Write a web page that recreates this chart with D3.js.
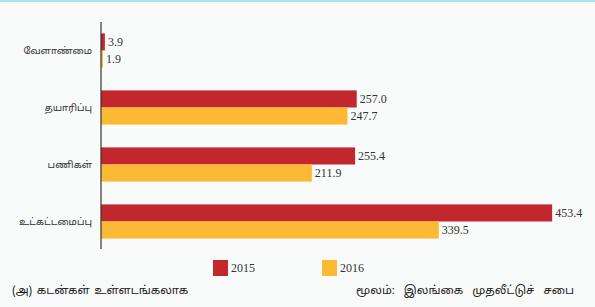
<!DOCTYPE html>
<html>
<head>
<meta charset="utf-8">
<script src="https://cdn.jsdelivr.net/npm/d3@7"></script>
<style>
  html, body { margin: 0; padding: 0; background: #f9fafa; }
  svg { display: block; }
</style>
</head>
<body>
<script>
var width = 595,
    height = 307;

// data
var categories = ['வேளாண்மை', 'தயாரிப்பு', 'பணிகள்', 'உட்கட்டமைப்பு'];
var years = ['2015', '2016'];
var values2015 = [3.9, 257.0, 255.4, 453.4];
var values2016 = [1.9, 247.7, 211.9, 339.5];
var colours = ['#c1272d', '#fdb933'];
var footLeft = '(அ) கடன்கள் உள்ளடங்கலாக';
var footRight = 'மூலம்: இலங்கை முதலீட்டுச் சபை';

var tamilFont = '"Noto Sans Tamil", "Noto Sans", "DejaVu Sans", sans-serif';
var numFont = '"Liberation Serif", "DejaVu Serif", serif';

var margin = { left: 101, top: 22 };

var svg = d3.select('body').append('svg')
    .attr('width', width)
    .attr('height', height);

svg.append('rect')
    .attr('width', width).attr('height', height)
    .attr('fill', '#f9fafa');

// thin top border
svg.append('rect')
    .attr('x', 0).attr('y', 0).attr('width', width).attr('height', 2)
    .attr('fill', '#a9e7ed');

var x = d3.scaleLinear().domain([0, 100]).range([margin.left, margin.left + 99.5]);

var y = d3.scaleBand()
    .domain(categories)
    .range([margin.top, margin.top + 4 * 57])
    .paddingInner(0.4).paddingOuter(0.2);

var sub = d3.scaleBand().domain(years).range([0, y.bandwidth()]);

var rows = categories.map(function(c, i) {
  return { cat: c, vals: [values2015[i], values2016[i]] };
});

var g = svg.selectAll('g.row').data(rows).enter()
    .append('g').attr('class', 'row')
    .attr('transform', function(d) { return 'translate(0,' + y(d.cat) + ')'; });

g.selectAll('rect').data(function(d) { return d.vals; }).enter()
    .append('rect')
    .attr('x', x(0))
    .attr('y', function(d, i) { return sub(years[i]); })
    .attr('width', function(d) { return x(d) - x(0); })
    .attr('height', sub.bandwidth())
    .attr('fill', function(d, i) { return colours[i]; });

g.selectAll('text.val').data(function(d) { return d.vals; }).enter()
    .append('text').attr('class', 'val')
    .attr('x', function(d) { return x(d) + 3; })
    .attr('y', function(d, i) { return sub(years[i]) + sub.bandwidth() / 2; })
    .attr('dy', '0.35em')
    .attr('font-family', numFont)
    .attr('font-size', 12)
    .attr('fill', '#333')
    .text(function(d) { return d.toFixed(1); });

// category labels
g.append('text')
    .attr('x', margin.left - 9)
    .attr('y', y.bandwidth() / 2)
    .attr('dy', '0.35em')
    .attr('text-anchor', 'end')
    .attr('font-family', tamilFont)
    .attr('font-size', 9.7)
    .attr('fill', '#333')
    .text(function(d) { return d.cat; });

// axis line
svg.append('line')
    .attr('x1', margin.left).attr('x2', margin.left)
    .attr('y1', margin.top).attr('y2', 249)
    .attr('stroke', '#333').attr('stroke-width', 1.2);

// legend
var legX = [213, 322];
var leg = svg.selectAll('g.leg').data(years).enter()
    .append('g').attr('class', 'leg')
    .attr('transform', function(d, i) { return 'translate(' + legX[i] + ',260)'; });
leg.append('rect')
    .attr('width', 15).attr('height', 16)
    .attr('fill', function(d, i) { return colours[i]; });
leg.append('text')
    .attr('x', 18).attr('y', 8).attr('dy', '0.35em')
    .attr('font-family', numFont).attr('font-size', 12)
    .attr('fill', '#333')
    .text(function(d) { return d; });

svg.append('text')
    .attr('x', 12).attr('y', 294)
    .attr('font-family', tamilFont).attr('font-size', 11.5)
    .attr('word-spacing', 1.5)
    .attr('fill', '#222')
    .text(footLeft);

svg.append('text')
    .attr('x', 574).attr('y', 294)
    .attr('text-anchor', 'end')
    .attr('font-family', tamilFont).attr('font-size', 11.5)
    .attr('word-spacing', 6)
    .attr('fill', '#222')
    .text(footRight);
</script>
</body>
</html>
